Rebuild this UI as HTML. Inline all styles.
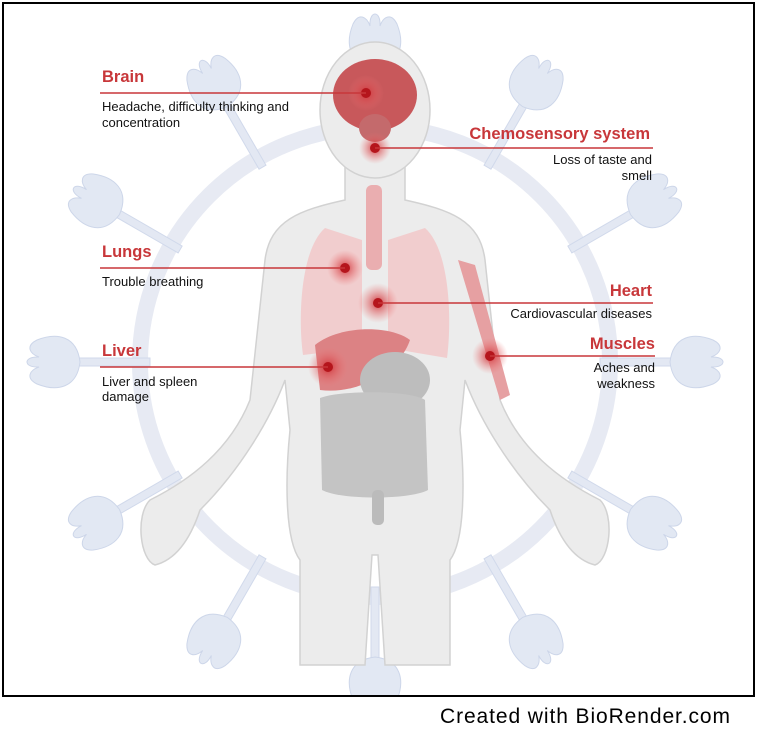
<!DOCTYPE html>
<html><head><style>
body{margin:0;background:#fff;width:762px;height:729px;overflow:hidden;font-family:"Liberation Sans",sans-serif}
</style></head><body>
<svg width="762" height="729" xmlns="http://www.w3.org/2000/svg" style="position:absolute;left:0;top:0">
<defs>
<g id="spike">
  <rect x="-4" y="-300" width="8" height="75" fill="#dfe5f1" stroke="#c9d3e8"/>
  <path d="M0,-295 C-26,-298 -30,-318 -22,-338 C-16,-350 -8,-345 -5,-336 C-6,-352 6,-352 5,-336 C8,-345 16,-350 22,-338 C30,-318 26,-298 0,-295Z" fill="#dde4f2" stroke="#c5d0e6"/>
</g>
<radialGradient id="halo"><stop offset="0" stop-color="#c7242a" stop-opacity=".9"/><stop offset=".35" stop-color="#d9484c" stop-opacity=".6"/><stop offset="1" stop-color="#e77" stop-opacity="0"/></radialGradient>
</defs>
<g transform="translate(375,362)" opacity=".85">
  <circle r="235" fill="none" stroke="#e3e7f1" stroke-width="16"/>
  <g><use href="#spike" transform="rotate(0)"/><use href="#spike" transform="rotate(30)"/><use href="#spike" transform="rotate(60)"/><use href="#spike" transform="rotate(90)"/><use href="#spike" transform="rotate(120)"/><use href="#spike" transform="rotate(150)"/><use href="#spike" transform="rotate(180)"/><use href="#spike" transform="rotate(210)"/><use href="#spike" transform="rotate(240)"/><use href="#spike" transform="rotate(270)"/><use href="#spike" transform="rotate(300)"/><use href="#spike" transform="rotate(330)"/></g>
</g>
<g fill="#ececec" stroke="#d2d2d2" stroke-width="1.5">
  <path d="M345,160 L345,200 C300,210 270,220 265,260 L250,400 C230,450 190,480 150,500 C135,515 140,560 155,565 C175,560 190,540 200,510 C240,470 270,420 285,380 L290,430 C285,480 285,540 300,560 L300,665 L365,665 L372,555 L378,555 L385,665 L450,665 L450,560 C465,540 465,480 460,430 L465,380 C480,420 510,470 550,510 C560,540 575,560 595,565 C610,560 615,515 600,500 C560,480 520,450 500,400 L485,260 C480,220 450,210 405,200 L405,160 Z"/>
  <ellipse cx="375" cy="110" rx="55" ry="68"/>
</g>
<path d="M325,228 C300,250 298,320 303,355 L362,348 L362,240 Z" fill="#f2c6c7" opacity=".8"/>
<path d="M425,228 C450,250 452,320 447,358 L388,348 L388,240 Z" fill="#f2c6c7" opacity=".8"/>
<rect x="366" y="185" width="16" height="85" rx="6" fill="#eaaeb0"/>
<path d="M315,345 C340,325 390,325 410,340 C400,370 360,395 320,390 Z" fill="#dc8284"/>
<ellipse cx="395" cy="380" rx="35" ry="28" fill="#bdbdbd"/>
<path d="M320,398 C340,390 410,390 425,400 L428,490 C410,500 340,500 322,490 Z" fill="#c4c4c4"/>
<rect x="372" y="490" width="12" height="35" rx="5" fill="#bbb"/>
<path d="M458,260 L475,265 L510,395 L500,400 Z" fill="#e6a0a2"/>
<ellipse cx="375" cy="95" rx="42" ry="36" fill="#c8585b"/>
<ellipse cx="375" cy="128" rx="16" ry="14" fill="#c46a6c"/>
<g fill="url(#halo)">
<circle cx="366" cy="93" r="18"/><circle cx="375" cy="148" r="16"/><circle cx="345" cy="268" r="18"/><circle cx="378" cy="303" r="20"/><circle cx="328" cy="367" r="20"/><circle cx="490" cy="356" r="18"/>
</g>
<g fill="#b5151c"><circle cx="366" cy="93" r="5"/><circle cx="375" cy="148" r="5"/><circle cx="345" cy="268" r="5"/><circle cx="378" cy="303" r="5"/><circle cx="328" cy="367" r="5"/><circle cx="490" cy="356" r="5"/></g>
<g stroke="#c8373a" stroke-width="1.6">
<line x1="100" y1="93" x2="366" y2="93"/><line x1="375" y1="148" x2="653" y2="148"/><line x1="100" y1="268" x2="345" y2="268"/><line x1="378" y1="303" x2="653" y2="303"/><line x1="100" y1="367" x2="328" y2="367"/><line x1="490" y1="356" x2="655" y2="356"/>
</g>
<g font-weight="bold" font-size="16.5" fill="#c8373a">
<text x="102" y="82">Brain</text><text x="650" y="139" text-anchor="end">Chemosensory system</text><text x="102" y="257">Lungs</text><text x="652" y="296" text-anchor="end">Heart</text><text x="102" y="356">Liver</text><text x="655" y="349" text-anchor="end">Muscles</text>
</g>
<g font-size="13" fill="#111">
<text x="102" y="111">Headache, difficulty thinking and</text><text x="102" y="127">concentration</text>
<text x="652" y="164" text-anchor="end">Loss of taste and</text><text x="652" y="180" text-anchor="end">smell</text>
<text x="102" y="286">Trouble breathing</text>
<text x="652" y="318" text-anchor="end">Cardiovascular diseases</text>
<text x="102" y="386">Liver and spleen</text><text x="102" y="401">damage</text>
<text x="655" y="372" text-anchor="end">Aches and</text><text x="655" y="388" text-anchor="end">weakness</text>
</g>
<rect x="0" y="697" width="762" height="32" fill="#fff"/>
<rect x="3" y="3" width="751" height="693" fill="none" stroke="#000" stroke-width="2"/>
<text x="440" y="723" font-size="21" fill="#000" textLength="290">Created with BioRender.com</text>
</svg>
</body></html>
